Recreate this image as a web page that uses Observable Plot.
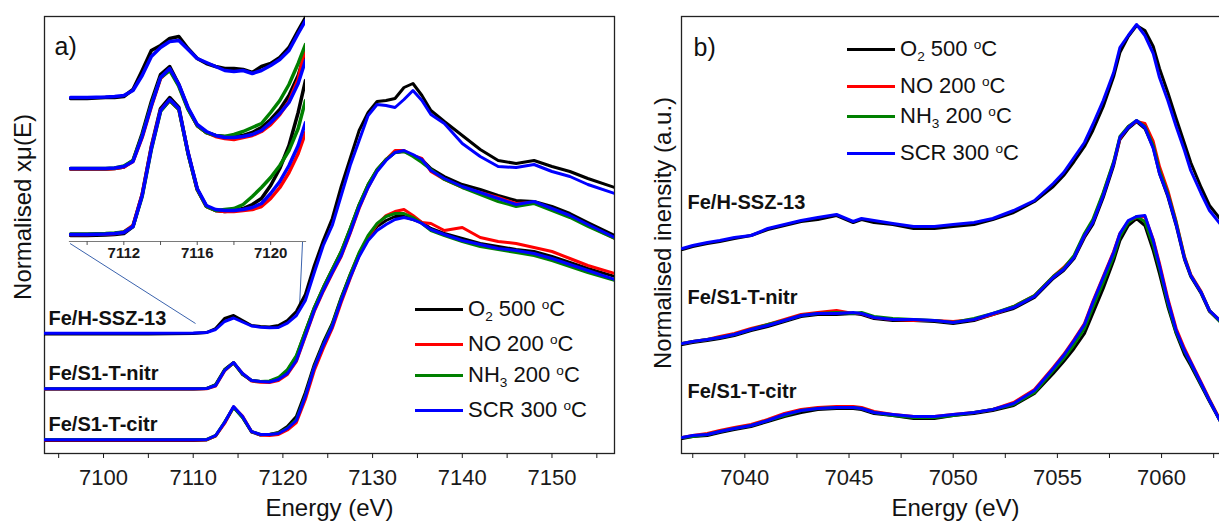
<!DOCTYPE html>
<html><head><meta charset="utf-8">
<script src="https://cdn.jsdelivr.net/npm/d3@7"></script>
<script src="https://cdn.jsdelivr.net/npm/@observablehq/plot@0.6"></script>
<style>
html,body{margin:0;padding:0;background:#fff;overflow:hidden}
#wrap{position:relative;width:1219px;height:523px;overflow:hidden;background:#fff;font-family:"Liberation Sans",Arial,Helvetica,sans-serif}
.lg{position:absolute;height:26px;display:flex;align-items:center;font-size:22px;color:#111;white-space:nowrap}
.lg .sw{display:inline-block;width:48px;height:0;border-top:3px solid;margin-right:5px}
.lg sub,.lg sup{font-size:62%;line-height:0}
.lg sub{vertical-align:-0.4em}
.lg sup{vertical-align:0.55em}
</style></head>
<body><div id="wrap"></div>
<script>
// ---------- categories ----------
const conditions = ["O2 500 °C", "NO 200 °C", "NH3 200 °C", "SCR 300 °C"];
const conditionLabels = ["O<sub>2</sub> 500 <sup>o</sup>C", "NO 200 <sup>o</sup>C", "NH<sub>3</sub> 200 <sup>o</sup>C", "SCR 300 <sup>o</sup>C"];
const samples = ["Fe/H-SSZ-13", "Fe/S1-T-nitr", "Fe/S1-T-citr"];

// ---------- tick values / labels ----------
const ticksA = [7095, 7100, 7105, 7110, 7115, 7120, 7125, 7130, 7135, 7140, 7145, 7150, 7155];
const tickLabelsA = [7100, 7110, 7120, 7130, 7140, 7150];
const ticksB = [7037.5, 7040, 7042.5, 7045, 7047.5, 7050, 7052.5, 7055, 7057.5, 7060, 7062.5];
const tickLabelsB = [7040, 7045, 7050, 7055, 7060];
const ticksInset = [7110, 7112, 7114, 7116, 7118, 7120];
const tickLabelsInset = [7112, 7116, 7120];

// ---------- (a) XANES, normalised xmu(E) with vertical offsets ----------
const xanesEnergy = [7093.4, 7105, 7110, 7111.5, 7112.5, 7113.5, 7114.5, 7115.5, 7116.5, 7117.5, 7118.5, 7119.5, 7120.5, 7121.5, 7122.5, 7123.5, 7124.5, 7125.5, 7126.5, 7127.5, 7128.5, 7129.5, 7130.5, 7131.5, 7132.5, 7133.5, 7134.5, 7135.5, 7136.5, 7138, 7140, 7142, 7144, 7146, 7148, 7150, 7152, 7154, 7157];
const xanesHSSZ13_O2  = [1.195, 1.195, 1.20, 1.21, 1.25, 1.35, 1.38, 1.33, 1.28, 1.27, 1.265, 1.28, 1.33, 1.42, 1.59, 1.88, 2.13, 2.35, 2.67, 2.95, 3.23, 3.41, 3.52, 3.53, 3.55, 3.66, 3.70, 3.58, 3.43, 3.32, 3.18, 3.04, 2.93, 2.90, 2.93, 2.87, 2.82, 2.75, 2.66];
const xanesHSSZ13_SCR = [1.203, 1.203, 1.205, 1.21, 1.24, 1.32, 1.355, 1.315, 1.275, 1.263, 1.258, 1.26, 1.303, 1.38, 1.53, 1.81, 2.08, 2.28, 2.58, 2.88, 3.13, 3.38, 3.49, 3.48, 3.46, 3.54, 3.63, 3.53, 3.39, 3.30, 3.10, 2.97, 2.87, 2.86, 2.89, 2.82, 2.77, 2.69, 2.60];
const xanesNitr_O2  = [0.645, 0.645, 0.645, 0.65, 0.69, 0.84, 0.91, 0.79, 0.73, 0.72, 0.72, 0.75, 0.83, 0.97, 1.22, 1.46, 1.66, 1.84, 2.02, 2.25, 2.49, 2.69, 2.84, 2.94, 3.01, 3.02, 2.98, 2.94, 2.85, 2.77, 2.69, 2.64, 2.58, 2.53, 2.52, 2.47, 2.40, 2.31, 2.18];
const xanesNitr_NO  = [0.645, 0.645, 0.645, 0.648, 0.675, 0.825, 0.905, 0.80, 0.725, 0.712, 0.71, 0.73, 0.79, 0.92, 1.17, 1.42, 1.62, 1.80, 1.97, 2.20, 2.45, 2.66, 2.83, 2.94, 3.03, 3.03, 2.98, 2.95, 2.82, 2.74, 2.66, 2.61, 2.56, 2.50, 2.51, 2.44, 2.37, 2.28, 2.15];
const xanesNitr_NH3 = [0.647, 0.647, 0.647, 0.65, 0.685, 0.835, 0.905, 0.795, 0.73, 0.72, 0.725, 0.76, 0.84, 0.98, 1.22, 1.46, 1.66, 1.84, 2.02, 2.25, 2.49, 2.69, 2.84, 2.94, 3.01, 3.02, 2.97, 2.91, 2.84, 2.74, 2.66, 2.59, 2.52, 2.47, 2.50, 2.43, 2.36, 2.27, 2.15];
const xanesNitr_SCR = [0.647, 0.647, 0.647, 0.65, 0.68, 0.83, 0.91, 0.80, 0.73, 0.72, 0.715, 0.74, 0.80, 0.93, 1.18, 1.43, 1.63, 1.81, 1.98, 2.21, 2.46, 2.66, 2.82, 2.93, 3.01, 3.03, 2.99, 2.94, 2.83, 2.75, 2.67, 2.61, 2.55, 2.49, 2.52, 2.45, 2.38, 2.29, 2.16];
const xanesCitr_O2  = [0.13, 0.13, 0.13, 0.135, 0.175, 0.31, 0.465, 0.36, 0.215, 0.185, 0.19, 0.21, 0.27, 0.37, 0.61, 0.89, 1.11, 1.30, 1.56, 1.79, 2.00, 2.16, 2.27, 2.33, 2.37, 2.37, 2.34, 2.31, 2.25, 2.20, 2.15, 2.10, 2.07, 2.04, 2.02, 1.97, 1.91, 1.85, 1.77];
const xanesCitr_NO  = [0.135, 0.135, 0.135, 0.138, 0.175, 0.30, 0.465, 0.375, 0.22, 0.185, 0.18, 0.19, 0.235, 0.31, 0.54, 0.83, 1.05, 1.25, 1.51, 1.75, 1.98, 2.16, 2.29, 2.38, 2.42, 2.44, 2.38, 2.31, 2.30, 2.23, 2.26, 2.16, 2.12, 2.10, 2.06, 2.02, 1.95, 1.88, 1.80];
const xanesCitr_NH3 = [0.14, 0.14, 0.14, 0.142, 0.18, 0.315, 0.46, 0.36, 0.22, 0.19, 0.19, 0.205, 0.255, 0.34, 0.58, 0.87, 1.09, 1.29, 1.55, 1.79, 2.01, 2.18, 2.30, 2.37, 2.40, 2.40, 2.36, 2.30, 2.23, 2.18, 2.12, 2.07, 2.04, 2.01, 1.98, 1.93, 1.87, 1.81, 1.73];
const xanesCitr_SCR = [0.137, 0.137, 0.137, 0.14, 0.18, 0.31, 0.47, 0.37, 0.22, 0.19, 0.19, 0.20, 0.25, 0.33, 0.57, 0.86, 1.08, 1.27, 1.53, 1.76, 1.97, 2.13, 2.23, 2.29, 2.34, 2.36, 2.34, 2.30, 2.24, 2.19, 2.13, 2.09, 2.05, 2.03, 2.00, 1.95, 1.89, 1.83, 1.74];

// ---------- (a) inset: pre-edge region ----------
const insetEnergy = [7109.1, 7110, 7111, 7111.5, 7112, 7112.5, 7113, 7113.5, 7114, 7114.5, 7115, 7115.5, 7116, 7116.5, 7117, 7117.5, 7118, 7118.5, 7119, 7119.5, 7120, 7120.5, 7121, 7121.5, 7121.9];
const insetHSSZ13_O2  = [1.43, 1.43, 1.44, 1.44, 1.45, 1.52, 1.71, 1.91, 1.96, 2.03, 2.05, 1.93, 1.83, 1.78, 1.75, 1.73, 1.73, 1.72, 1.69, 1.75, 1.78, 1.84, 1.94, 2.11, 2.24];
const insetHSSZ13_SCR = [1.44, 1.44, 1.445, 1.45, 1.46, 1.51, 1.66, 1.85, 1.94, 2.00, 2.01, 1.92, 1.83, 1.79, 1.75, 1.71, 1.70, 1.71, 1.68, 1.71, 1.76, 1.82, 1.91, 2.08, 2.21];
const insetNitr_O2  = [0.725, 0.725, 0.725, 0.73, 0.745, 0.81, 1.08, 1.40, 1.67, 1.75, 1.57, 1.33, 1.16, 1.09, 1.06, 1.05, 1.05, 1.06, 1.09, 1.14, 1.22, 1.32, 1.46, 1.66, 1.90];
const insetNitr_NO  = [0.725, 0.725, 0.725, 0.73, 0.745, 0.80, 1.04, 1.35, 1.63, 1.72, 1.56, 1.33, 1.16, 1.09, 1.05, 1.03, 1.02, 1.04, 1.06, 1.10, 1.17, 1.27, 1.40, 1.62, 1.95];
const insetNitr_NH3 = [0.73, 0.73, 0.73, 0.735, 0.755, 0.81, 1.06, 1.37, 1.64, 1.71, 1.55, 1.32, 1.16, 1.09, 1.06, 1.05, 1.07, 1.10, 1.14, 1.18, 1.29, 1.41, 1.57, 1.78, 1.97];
const insetNitr_SCR = [0.73, 0.73, 0.73, 0.735, 0.75, 0.80, 1.05, 1.36, 1.64, 1.73, 1.57, 1.34, 1.17, 1.10, 1.06, 1.04, 1.04, 1.05, 1.07, 1.11, 1.19, 1.28, 1.39, 1.58, 1.81];
const insetCitr_O2  = [0.06, 0.06, 0.065, 0.07, 0.08, 0.15, 0.47, 0.95, 1.33, 1.44, 1.34, 0.88, 0.52, 0.35, 0.31, 0.30, 0.31, 0.33, 0.37, 0.43, 0.56, 0.73, 0.96, 1.29, 1.61];
const insetCitr_NO  = [0.07, 0.07, 0.075, 0.08, 0.095, 0.16, 0.47, 0.94, 1.31, 1.41, 1.32, 0.89, 0.52, 0.35, 0.31, 0.30, 0.30, 0.31, 0.32, 0.35, 0.43, 0.54, 0.69, 0.88, 1.09];
const insetCitr_NH3 = [0.075, 0.075, 0.08, 0.085, 0.095, 0.15, 0.45, 0.92, 1.30, 1.41, 1.32, 0.88, 0.52, 0.35, 0.31, 0.32, 0.33, 0.37, 0.45, 0.54, 0.64, 0.76, 0.91, 1.13, 1.41];
const insetCitr_SCR = [0.07, 0.07, 0.075, 0.08, 0.09, 0.15, 0.46, 0.93, 1.31, 1.42, 1.33, 0.89, 0.53, 0.36, 0.32, 0.31, 0.31, 0.32, 0.34, 0.38, 0.48, 0.60, 0.76, 0.96, 1.19];

// ---------- (b) XES, normalised intensity with vertical offsets ----------
const xesEnergy = [7037.0, 7037.5, 7038.2, 7038.8, 7039.5, 7040.3, 7041.1, 7041.9, 7042.7, 7043.5, 7044.4, 7045.2, 7045.6, 7046.2, 7047.1, 7048.1, 7049.1, 7050.0, 7051.0, 7051.9, 7052.9, 7053.9, 7054.8, 7055.3, 7055.8, 7056.3, 7056.7, 7057.2, 7057.7, 7058.0, 7058.4, 7058.8, 7059.2, 7059.6, 7059.9, 7060.3, 7060.7, 7061.1, 7061.4, 7061.9, 7062.3, 7062.8, 7063.3];
const xesHSSZ13_O2  = [2.04, 2.07, 2.10, 2.12, 2.15, 2.18, 2.24, 2.28, 2.32, 2.34, 2.38, 2.31, 2.34, 2.31, 2.29, 2.25, 2.25, 2.27, 2.29, 2.34, 2.41, 2.52, 2.67, 2.78, 2.92, 3.07, 3.23, 3.47, 3.77, 4.01, 4.17, 4.28, 4.23, 4.07, 3.85, 3.61, 3.35, 3.10, 2.91, 2.66, 2.48, 2.35, 2.25];
const xesHSSZ13_SCR = [2.05, 2.08, 2.11, 2.13, 2.16, 2.18, 2.25, 2.29, 2.33, 2.36, 2.39, 2.32, 2.35, 2.33, 2.30, 2.27, 2.27, 2.29, 2.31, 2.35, 2.43, 2.53, 2.70, 2.81, 2.96, 3.11, 3.29, 3.53, 3.81, 4.06, 4.18, 4.29, 4.18, 4.00, 3.76, 3.53, 3.27, 3.03, 2.83, 2.60, 2.43, 2.30, 2.18];
const xesNitr_O2  = [1.09, 1.11, 1.13, 1.15, 1.18, 1.23, 1.27, 1.32, 1.37, 1.39, 1.39, 1.40, 1.39, 1.35, 1.33, 1.33, 1.32, 1.30, 1.33, 1.39, 1.45, 1.56, 1.75, 1.83, 1.95, 2.16, 2.29, 2.56, 2.88, 3.14, 3.25, 3.32, 3.25, 3.06, 2.80, 2.57, 2.28, 1.94, 1.77, 1.60, 1.42, 1.32, 1.24];
const xesNitr_NO  = [1.10, 1.12, 1.14, 1.17, 1.20, 1.25, 1.29, 1.34, 1.39, 1.41, 1.43, 1.40, 1.40, 1.36, 1.34, 1.33, 1.33, 1.32, 1.34, 1.39, 1.47, 1.58, 1.77, 1.86, 1.97, 2.18, 2.32, 2.60, 2.91, 3.15, 3.27, 3.32, 3.30, 3.12, 2.87, 2.63, 2.32, 1.97, 1.79, 1.62, 1.43, 1.33, 1.24];
const xesNitr_NH3 = [1.10, 1.12, 1.14, 1.16, 1.19, 1.24, 1.29, 1.33, 1.38, 1.40, 1.41, 1.40, 1.41, 1.37, 1.35, 1.34, 1.33, 1.31, 1.35, 1.40, 1.47, 1.58, 1.77, 1.85, 1.98, 2.20, 2.34, 2.61, 2.92, 3.17, 3.27, 3.33, 3.27, 3.08, 2.83, 2.60, 2.31, 1.96, 1.78, 1.61, 1.43, 1.32, 1.24];
const xesNitr_SCR = [1.10, 1.12, 1.14, 1.16, 1.19, 1.24, 1.28, 1.33, 1.38, 1.40, 1.40, 1.41, 1.40, 1.36, 1.34, 1.34, 1.33, 1.31, 1.34, 1.40, 1.46, 1.57, 1.76, 1.84, 1.96, 2.18, 2.31, 2.58, 2.90, 3.16, 3.26, 3.33, 3.26, 3.05, 2.80, 2.58, 2.29, 1.95, 1.78, 1.61, 1.43, 1.33, 1.25];
const xesCitr_O2  = [0.15, 0.17, 0.18, 0.21, 0.24, 0.27, 0.32, 0.37, 0.41, 0.44, 0.45, 0.45, 0.44, 0.40, 0.38, 0.35, 0.35, 0.38, 0.40, 0.43, 0.48, 0.60, 0.80, 0.92, 1.05, 1.20, 1.40, 1.65, 1.93, 2.13, 2.28, 2.35, 2.28, 2.03, 1.80, 1.47, 1.20, 0.99, 0.88, 0.68, 0.52, 0.33, 0.23];
const xesCitr_NO  = [0.16, 0.18, 0.20, 0.23, 0.26, 0.29, 0.34, 0.40, 0.44, 0.46, 0.47, 0.47, 0.46, 0.42, 0.39, 0.37, 0.37, 0.39, 0.41, 0.44, 0.51, 0.64, 0.86, 0.99, 1.14, 1.30, 1.52, 1.77, 2.02, 2.20, 2.32, 2.36, 2.37, 2.14, 1.90, 1.55, 1.25, 1.05, 0.92, 0.71, 0.54, 0.34, 0.24];
const xesCitr_NH3 = [0.16, 0.17, 0.19, 0.22, 0.25, 0.28, 0.33, 0.38, 0.43, 0.45, 0.46, 0.46, 0.45, 0.41, 0.38, 0.36, 0.36, 0.38, 0.41, 0.44, 0.49, 0.61, 0.83, 0.95, 1.09, 1.25, 1.46, 1.71, 1.97, 2.17, 2.31, 2.37, 2.32, 2.08, 1.85, 1.50, 1.21, 1.02, 0.90, 0.69, 0.53, 0.33, 0.23];
const xesCitr_SCR = [0.16, 0.18, 0.19, 0.22, 0.25, 0.28, 0.33, 0.39, 0.43, 0.45, 0.46, 0.46, 0.45, 0.41, 0.39, 0.37, 0.37, 0.39, 0.41, 0.44, 0.50, 0.63, 0.85, 0.98, 1.13, 1.29, 1.51, 1.76, 2.01, 2.20, 2.33, 2.37, 2.38, 2.13, 1.88, 1.53, 1.23, 1.03, 0.91, 0.70, 0.53, 0.33, 0.23];

// ---------- zoom connector lines of the inset (in panel a data units) ----------
const insetConnectors = [
  {x1: 7096.27, y1: 2.10, x2: 7110.26, y2: 1.30},
  {x1: 7122.19, y1: 2.12, x2: 7121.85, y2: 1.46}
];

// ---------- styles ----------
const palette = ["#000000", "#ff0000", "#008000", "#0000ff"];
const colorOf = Object.fromEntries(conditions.map((c, i) => [c, palette[i]]));
const FONT = '"Liberation Sans", Arial, Helvetica, sans-serif';
const baseStyle = {fontFamily: FONT, fontSize: "22px", color: "#1a1a1a", background: "transparent", overflow: "visible"};

function series(energy, sample, cond, values) {
  return values.map((v, i) => ({E: energy[i], v, sample, cond}));
}
const xanesRows = [
  ...series(xanesEnergy, samples[0], conditions[0], xanesHSSZ13_O2),
  ...series(xanesEnergy, samples[0], conditions[3], xanesHSSZ13_SCR),
  ...series(xanesEnergy, samples[1], conditions[0], xanesNitr_O2),
  ...series(xanesEnergy, samples[1], conditions[1], xanesNitr_NO),
  ...series(xanesEnergy, samples[1], conditions[2], xanesNitr_NH3),
  ...series(xanesEnergy, samples[1], conditions[3], xanesNitr_SCR),
  ...series(xanesEnergy, samples[2], conditions[0], xanesCitr_O2),
  ...series(xanesEnergy, samples[2], conditions[1], xanesCitr_NO),
  ...series(xanesEnergy, samples[2], conditions[2], xanesCitr_NH3),
  ...series(xanesEnergy, samples[2], conditions[3], xanesCitr_SCR)
];
const insetRows = [
  ...series(insetEnergy, samples[0], conditions[0], insetHSSZ13_O2),
  ...series(insetEnergy, samples[0], conditions[3], insetHSSZ13_SCR),
  ...series(insetEnergy, samples[1], conditions[0], insetNitr_O2),
  ...series(insetEnergy, samples[1], conditions[1], insetNitr_NO),
  ...series(insetEnergy, samples[1], conditions[2], insetNitr_NH3),
  ...series(insetEnergy, samples[1], conditions[3], insetNitr_SCR),
  ...series(insetEnergy, samples[2], conditions[0], insetCitr_O2),
  ...series(insetEnergy, samples[2], conditions[1], insetCitr_NO),
  ...series(insetEnergy, samples[2], conditions[2], insetCitr_NH3),
  ...series(insetEnergy, samples[2], conditions[3], insetCitr_SCR)
];
const xesRows = [
  ...series(xesEnergy, samples[0], conditions[0], xesHSSZ13_O2),
  ...series(xesEnergy, samples[0], conditions[3], xesHSSZ13_SCR),
  ...series(xesEnergy, samples[1], conditions[0], xesNitr_O2),
  ...series(xesEnergy, samples[1], conditions[1], xesNitr_NO),
  ...series(xesEnergy, samples[1], conditions[2], xesNitr_NH3),
  ...series(xesEnergy, samples[1], conditions[3], xesNitr_SCR),
  ...series(xesEnergy, samples[2], conditions[0], xesCitr_O2),
  ...series(xesEnergy, samples[2], conditions[1], xesCitr_NO),
  ...series(xesEnergy, samples[2], conditions[2], xesCitr_NH3),
  ...series(xesEnergy, samples[2], conditions[3], xesCitr_SCR)
];

function lineMarks(rows, width) {
  return conditions.map(c => Plot.line(rows.filter(d => d.cond === c), {
    x: "E", y: "v", z: "sample", stroke: colorOf[c], strokeWidth: width,
    strokeLinejoin: "round", strokeLinecap: "round", clip: true
  }));
}
function labelRows(rows) {
  return samples.map(s => ({sample: s, v: rows.find(d => d.sample === s && d.cond === conditions[3]).v}));
}
const fmt = labels => d => labels.includes(d) ? String(d) : "";

const wrap = document.getElementById("wrap");
function place(el, left, top) {
  el.style.position = "absolute";
  el.style.left = left + "px";
  el.style.top = top + "px";
  el.style.maxWidth = "none";
  wrap.appendChild(el);
}

// ---------- panel a ----------
const plotA = Plot.plot({
  width: 624, height: 523,
  marginLeft: 44, marginRight: 10, marginTop: 16, marginBottom: 70,
  x: {domain: [7093.42, 7156.97]},
  y: {domain: [0, 4.37], axis: null},
  style: baseStyle,
  marks: [
    Plot.frame({stroke: "#222", strokeWidth: 1.3}),
    Plot.axisX({ticks: ticksA, tickFormat: fmt(tickLabelsA), tickSize: 5, tickPadding: 11, fontSize: 22, label: null}),
    Plot.link(insetConnectors, {x1: "x1", y1: "y1", x2: "x2", y2: "y2", stroke: "#3b63ad", strokeWidth: 1}),
    ...lineMarks(xanesRows, 3),
    Plot.text(labelRows(xanesRows), {y: "v", text: "sample", frameAnchor: "left", textAnchor: "start", lineAnchor: "middle", dx: 4, dy: -15, fontSize: 20, fontWeight: "bold", fill: "#111"}),
    Plot.text(["a)"], {frameAnchor: "top-left", textAnchor: "start", lineAnchor: "middle", dx: 10, dy: 30, fontSize: 25, fill: "#111"}),
    Plot.text(["Energy (eV)"], {frameAnchor: "bottom", textAnchor: "middle", lineAnchor: "middle", dy: 55, fontSize: 24, fill: "#111"}),
    Plot.text(["Normalised xμ(E)"], {frameAnchor: "left", textAnchor: "middle", lineAnchor: "middle", rotate: -90, dx: -21, dy: -28, fontSize: 24, fill: "#111"})
  ]
});
place(plotA, 0, 0);

// ---------- inset of panel a ----------
const plotInset = Plot.plot({
  width: 256, height: 256,
  marginLeft: 10, marginRight: 10, marginTop: 0, marginBottom: 25,
  x: {domain: [7109.04, 7121.9]},
  y: {domain: [0, 2.31], axis: null},
  style: {...baseStyle, fontSize: "15px", fontWeight: "bold"},
  marks: [
    Plot.frame({anchor: "bottom", stroke: "#7a7a7a", strokeWidth: 1.2}),
    Plot.axisX({ticks: ticksInset, tickFormat: fmt(tickLabelsInset), tickSize: 4, tickPadding: 2, fontSize: 15, fontWeight: "bold", label: null, stroke: "#555"}),
    ...lineMarks(insetRows, 3.5)
  ]
});
place(plotInset, 59, 10);

// ---------- panel b ----------
const plotB = Plot.plot({
  width: 599, height: 523,
  marginLeft: 41, marginRight: 10, marginTop: 16, marginBottom: 70,
  x: {domain: [7036.96, 7063.26]},
  y: {domain: [0, 4.37], axis: null},
  style: baseStyle,
  marks: [
    Plot.frame({stroke: "#222", strokeWidth: 1.3}),
    Plot.axisX({ticks: ticksB, tickFormat: fmt(tickLabelsB), tickSize: 5, tickPadding: 11, fontSize: 22, label: null}),
    ...lineMarks(xesRows, 3),
    Plot.text(labelRows(xesRows), {y: "v", text: "sample", frameAnchor: "left", textAnchor: "start", lineAnchor: "middle", dx: 6, dy: -46, fontSize: 20, fontWeight: "bold", fill: "#111"}),
    Plot.text(["b)"], {frameAnchor: "top-left", textAnchor: "start", lineAnchor: "middle", dx: 12, dy: 31, fontSize: 25, fill: "#111"}),
    Plot.text(["Energy (eV)"], {frameAnchor: "bottom", textAnchor: "middle", lineAnchor: "middle", dy: 55, fontSize: 24, fill: "#111"}),
    Plot.text(["Normalised inensity (a.u.)"], {frameAnchor: "left", textAnchor: "middle", lineAnchor: "middle", rotate: -90, dx: -18, dy: -2, fontSize: 24, fill: "#111"})
  ]
});
place(plotB, 640, 0);

// ---------- legends ----------
function legend(left, rowCenters) {
  conditions.forEach((c, i) => {
    const row = document.createElement("div");
    row.className = "lg";
    row.style.left = left + "px";
    row.style.top = (rowCenters[i] - 13) + "px";
    row.innerHTML = `<span class="sw" style="border-top-color:${colorOf[c]}"></span><span>${conditionLabels[i]}</span>`;
    wrap.appendChild(row);
  });
}
legend(415, [309, 344, 375, 410]);
legend(847, [49, 86, 116, 153]);
</script>
</body></html>
